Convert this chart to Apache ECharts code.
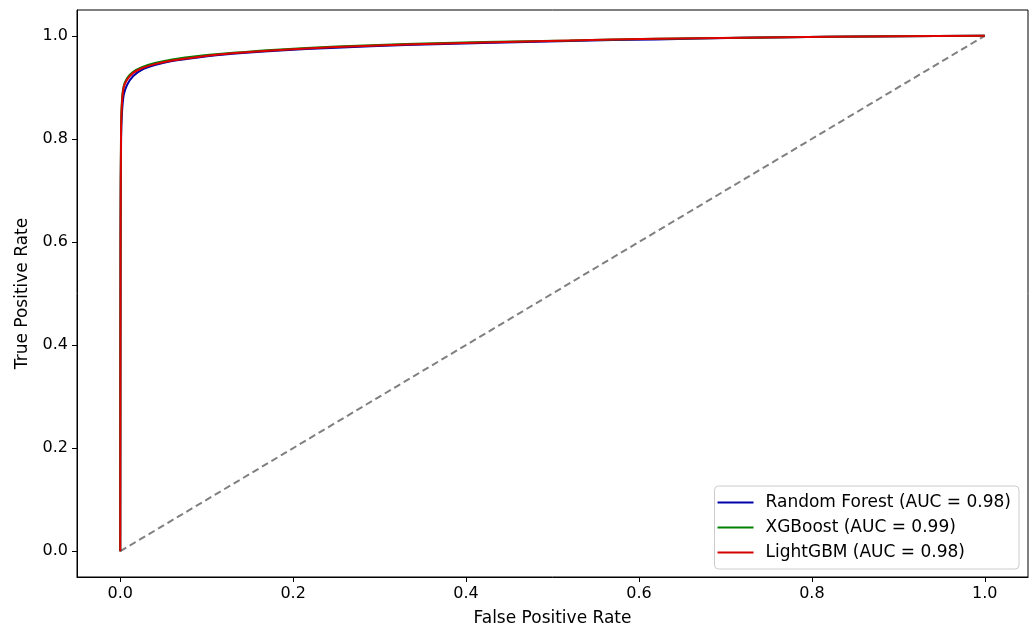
<!DOCTYPE html>
<html>
<head>
<meta charset="utf-8">
<script src="https://cdn.jsdelivr.net/npm/echarts@6/dist/echarts.min.js"></script>
<style>html,body{margin:0;padding:0;background:#fff;}#c{width:1033px;height:628px;}</style>
</head>
<body>
<div id="c"></div>
<script>
const tickValues = [0, 0.2, 0.4, 0.6, 0.8, 1.0];
const rfFpr  = [0, 0.0004, 0.001, 0.002, 0.004, 0.008, 0.015, 0.025, 0.04, 0.06, 0.09, 0.13, 0.18, 0.25, 0.33, 0.42, 0.52, 0.62, 0.72, 0.82, 0.9, 1.0];
const rfTpr  = [0, 0.60, 0.80, 0.85, 0.885, 0.905, 0.922, 0.934, 0.943, 0.951, 0.958, 0.965, 0.971, 0.977, 0.982, 0.986, 0.990, 0.993, 0.996, 0.998, 0.999, 1.0];
const xgbFpr = [0, 0.0004, 0.001, 0.002, 0.004, 0.008, 0.015, 0.025, 0.04, 0.06, 0.09, 0.13, 0.18, 0.25, 0.33, 0.42, 0.52, 0.62, 0.72, 0.82, 0.9, 1.0];
const xgbTpr = [0, 0.62, 0.83, 0.875, 0.902, 0.918, 0.930, 0.939, 0.947, 0.954, 0.961, 0.967, 0.973, 0.979, 0.984, 0.988, 0.991, 0.994, 0.996, 0.998, 0.999, 1.0];
const lgbFpr = [0, 0.0004, 0.001, 0.002, 0.004, 0.008, 0.015, 0.025, 0.04, 0.06, 0.09, 0.13, 0.18, 0.25, 0.33, 0.42, 0.52, 0.62, 0.72, 0.82, 0.9, 1.0];
const lgbTpr = [0, 0.61, 0.82, 0.87, 0.90, 0.915, 0.928, 0.937, 0.945, 0.952, 0.959, 0.966, 0.972, 0.978, 0.983, 0.987, 0.991, 0.994, 0.996, 0.998, 0.999, 1.0];
const diagFpr = [0, 1];
const diagTpr = [0, 1];
const seriesNames = ['Random Forest (AUC = 0.98)', 'XGBoost (AUC = 0.99)', 'LightGBM (AUC = 0.98)'];

const zip = (a, b) => a.map((v, i) => [v, b[i]]);
const font = 'DejaVu Sans';

const chart = echarts.init(document.getElementById('c'));
chart.setOption({
  animation: false,
  backgroundColor: '#fff',
  grid: { left: 77, right: 5, top: 10, bottom: 51, show: true, borderColor: '#000', borderWidth: 1, containLabel: false, outerBoundsMode: 'none' },
  xAxis: {
    type: 'value', min: -0.05, max: 1.05,
    name: 'False Positive Rate', nameLocation: 'middle', nameGap: 33,
    nameTextStyle: { fontFamily: font, fontSize: 17, color: '#000' },
    axisLine: { show: true, onZero: false, lineStyle: { color: '#000', width: 1 } },
    axisTick: { show: true, inside: false, length: 5, customValues: tickValues, lineStyle: { color: '#000' } },
    axisLabel: { customValues: tickValues, formatter: v => v.toFixed(1), fontFamily: font, fontSize: 16, color: '#000', margin: 9 },
    splitLine: { show: false }
  },
  yAxis: {
    type: 'value', min: -0.05, max: 1.05,
    name: 'True Positive Rate', nameLocation: 'middle', nameGap: 46, nameRotate: 90,
    nameTextStyle: { fontFamily: font, fontSize: 17, color: '#000' },
    axisLine: { show: true, onZero: false, lineStyle: { color: '#000', width: 1 } },
    axisTick: { show: true, inside: false, length: 5, customValues: tickValues, lineStyle: { color: '#000' } },
    axisLabel: { customValues: tickValues, formatter: v => v.toFixed(1), fontFamily: font, fontSize: 16, color: '#000', margin: 9 },
    splitLine: { show: false }
  },
  legend: {
    data: seriesNames,
    orient: 'vertical', right: 14, bottom: 59,
    icon: 'rect', itemWidth: 36, itemHeight: 2, itemGap: 8,
    textStyle: { fontFamily: font, fontSize: 17, color: '#000', padding: [0, 0, 0, 7] },
    borderColor: '#cccccc', borderWidth: 1, borderRadius: 4,
    padding: [8, 8, 8, 3], backgroundColor: 'rgba(255,255,255,0.8)'
  },
  series: [
    { type: 'line', name: 'diag', data: zip(diagFpr, diagTpr), showSymbol: false, symbol: 'none',
      lineStyle: { color: '#808080', width: 2, type: [7, 4] }, z: 1 },
    { type: 'line', name: seriesNames[0], data: zip(rfFpr, rfTpr), showSymbol: false, symbol: 'none', smooth: 0.3,
      lineStyle: { color: '#0000a8', width: 2 }, itemStyle: { color: '#0000a8' }, z: 2 },
    { type: 'line', name: seriesNames[1], data: zip(xgbFpr, xgbTpr), showSymbol: false, symbol: 'none', smooth: 0.3,
      lineStyle: { color: '#008000', width: 2 }, itemStyle: { color: '#008000' }, z: 3 },
    { type: 'line', name: seriesNames[2], data: zip(lgbFpr, lgbTpr), showSymbol: false, symbol: 'none', smooth: 0.3,
      lineStyle: { color: '#e00000', width: 2 }, itemStyle: { color: '#d00000' }, z: 4 }
  ]
});
</script>
</body>
</html>
